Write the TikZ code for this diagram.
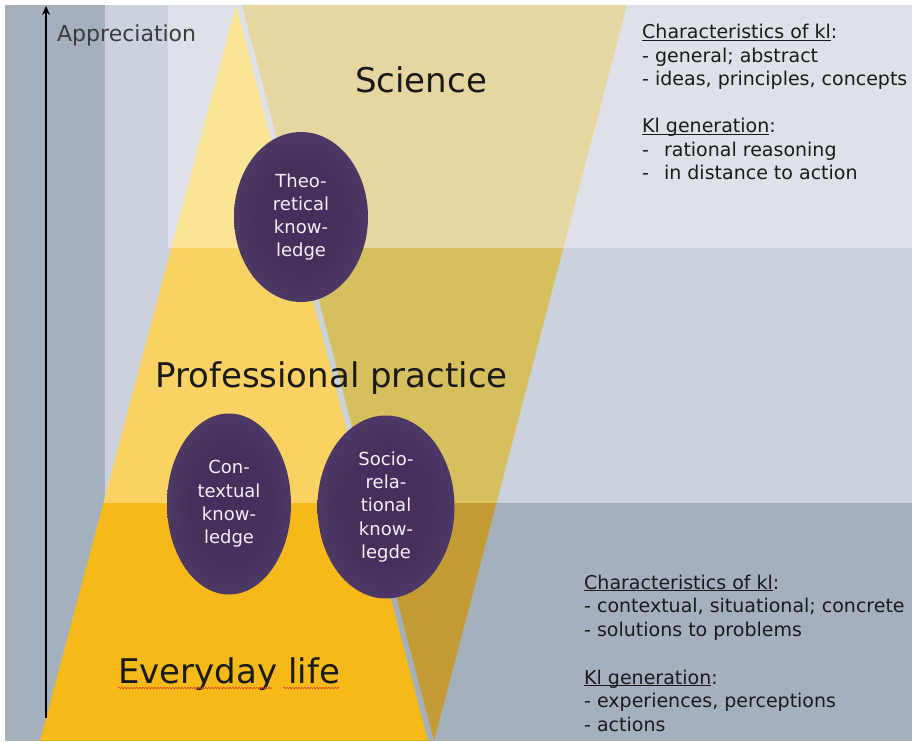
\documentclass[tikz,border=0pt]{standalone}
\usepackage{fontspec}
\setmainfont{DejaVu Sans}
\usetikzlibrary{shapes.geometric,decorations.pathmorphing,arrows.meta}

\definecolor{bgL}{HTML}{DEE2E8}
\definecolor{bgM}{HTML}{CAD2DB}
\definecolor{bgD}{HTML}{A5B0BD}
\definecolor{oT}{HTML}{FAE496}
\definecolor{oM}{HTML}{FAD264}
\definecolor{oB}{HTML}{F5B919}
\definecolor{vT}{HTML}{E6D7A0}
\definecolor{vM}{HTML}{D7BE5F}
\definecolor{vB}{HTML}{C39B32}
\definecolor{pinner}{HTML}{45305D}
\definecolor{pmid}{HTML}{56436F}
\definecolor{pouter}{HTML}{86789F}
\definecolor{ktext}{HTML}{F3EFF7}
\definecolor{dtext}{HTML}{1A1A1A}
\definecolor{wavy}{HTML}{E0452A}

\pgfdeclareradialshading{ellsh}{\pgfpoint{0bp}{0bp}}{color(0bp)=(pinner); color(15bp)=(pinner); color(38bp)=(pmid); color(50bp)=(pouter)}

\newcommand\myul[1]{$\underline{\smash{\hbox{#1}}}$}

\tikzset{
  know/.style={ellipse, shade, shading=ellsh, inner sep=0pt, align=center, text=ktext,
    font=\fontsize{18}{23.3}\selectfont},
  biglabel/.style={inner sep=0pt, text=dtext, font=\fontsize{34}{40}\selectfont},
  sidetext/.style={inner sep=0pt, anchor=base west, text=dtext, font=\fontsize{19}{23}\selectfont},
}

\begin{document}
\begin{tikzpicture}[x=1pt,y=-1pt]
\useasboundingbox (0,0) rectangle (912,741);
\fill[white] (0,0) rectangle (912,741);
% background bands
\fill[bgL] (5,5) rectangle (912,741);
\fill[bgM] (105,5) rectangle (168,248);
\fill[bgM] (105,248) rectangle (912,741);
\fill[bgD] (5,5) rectangle (105,741);
\fill[bgD] (5,503) rectangle (912,741);

% upward triangle
\begin{scope}
  \clip (236,5) -- (428,741) -- (40,741) -- cycle;
  \fill[oT] (0,0) rectangle (912,248);
  \fill[oM] (0,248) rectangle (912,503);
  \fill[oB] (0,503) rectangle (912,741);
\end{scope}
% inverted triangle
\begin{scope}
  \clip (242,5) -- (627,5) -- (434,741) -- cycle;
  \fill[vT] (0,0) rectangle (912,248);
  \fill[vM] (0,248) rectangle (912,503);
  \fill[vB] (0,503) rectangle (912,741);
\end{scope}

% appreciation axis
\coordinate (axbot) at (46,718);
\coordinate (axtop) at (46,6);
\draw[line width=2.2pt, -{Stealth[length=9pt,width=8pt]}] (axbot) -- (axtop);
\node[inner sep=0pt, anchor=base west, text=dtext!85!white, font=\fontsize{22}{26}\selectfont] (appr) at (57,42) {Appreciation};

% main labels
\node[biglabel, anchor=base] (sci) at (421,93) {Science};
\node[biglabel, anchor=base west] (prof) at (155,387) {Professional practice};
\node[biglabel, anchor=base west] (every) at (118,683) {Everyday life};
\draw[wavy, line width=0.6pt, decorate, decoration={snake, amplitude=0.8pt, segment length=3pt}] (118,688) -- (272,688);
\draw[wavy, line width=0.6pt, decorate, decoration={snake, amplitude=0.8pt, segment length=3pt}] (283,688) -- (340,688);

% knowledge ellipses
\node[know, minimum width=134pt, minimum height=170pt] (theo) at (301,217) {Theo-\\retical\\know-\\ledge};
\node[know, minimum width=124pt, minimum height=181pt] (cont) at (229,504) {Con-\\textual\\know-\\ledge};
\node[know, minimum width=137pt, minimum height=183pt] (socio) at (386,507) {Socio-\\rela-\\tional\\know-\\legde};

% top right text
\node[sidetext] (t1) at (642,39) {\myul{Characteristics of kl}:};
\node[sidetext] (t2) at (642,62.5) {- general; abstract};
\node[sidetext] (t3) at (642,86) {- ideas, principles, concepts};
\node[sidetext] (t4) at (642,132.5) {\myul{Kl generation}:};
\node[sidetext] (t5) at (642,156) {-\hspace{15pt}rational reasoning};
\node[sidetext] (t6) at (642,179.5) {-\hspace{15pt}in distance to action};

% bottom right text
\node[sidetext] (b1) at (584,589) {\myul{Characteristics of kl}:};
\node[sidetext] (b2) at (584,612.5) {- contextual, situational; concrete};
\node[sidetext] (b3) at (584,636) {- solutions to problems};
\node[sidetext] (b4) at (584,684) {\myul{Kl generation}:};
\node[sidetext] (b5) at (584,707.5) {- experiences, perceptions};
\node[sidetext] (b6) at (584,731) {- actions};
\end{tikzpicture}
\end{document}
